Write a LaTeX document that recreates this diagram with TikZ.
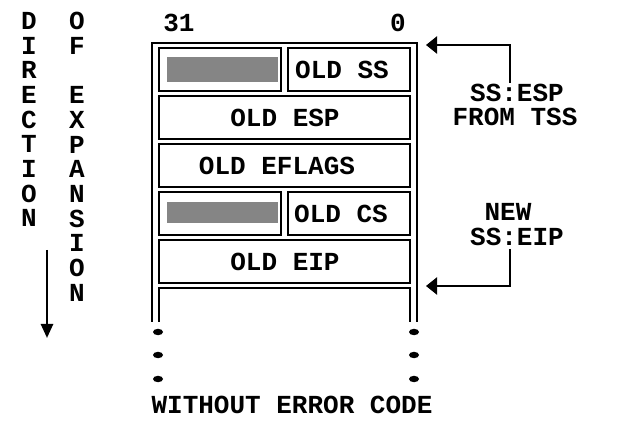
\documentclass[tikz,border=0pt]{standalone}
\usepackage{fontspec}
\setmonofont{Liberation Mono}
\usetikzlibrary{arrows.meta}
\begin{document}
\begin{tikzpicture}[x=1pt,y=-1pt,
  lbl/.style={font=\ttfamily\bfseries\fontsize{26}{26}\selectfont, inner sep=0pt},
  frm/.style={line width=2.5pt},
  boxline/.style={line width=2.5pt},
  shadebox/.style={fill=black!48, draw=none},
  arr/.style={line width=2.2pt, -{Triangle[length=11pt,width=17pt]}},
  darr/.style={line width=2.5pt, -{Triangle[length=14pt,width=12pt]}},
  stackdot/.style={fill=black}
]
\useasboundingbox (0,0) rectangle (632,443);

% frame
\draw[frm] (152,322) -- (152,43) -- (417,43) -- (417,322);

% rows
\draw[boxline] (159,48) rectangle (281,91);
\draw[boxline] (288,48) rectangle (410,91);
\draw[boxline] (159,96) rectangle (410,139);
\draw[boxline] (159,144) rectangle (410,187);
\draw[boxline] (159,192) rectangle (281,235);
\draw[boxline] (288,192) rectangle (410,235);
\draw[boxline] (159,240) rectangle (410,283);
\draw[boxline] (159,322) -- (159,288) -- (410,288) -- (410,322);

% shaded fields
\fill[shadebox] (167,57) rectangle (278,82);
\fill[shadebox] (167,202) rectangle (278,223);

% labels
\node[lbl] (b31) at (179,23) {31};
\node[lbl] (b0) at (398,23) {0};
\node[lbl] (oldss) at (342,69.5) {OLD SS};
\node[lbl] (oldesp) at (285,117.5) {OLD ESP};
\node[lbl] (oldeflags) at (277,165.5) {OLD EFLAGS};
\node[lbl] (oldcs) at (341,213.5) {OLD CS};
\node[lbl] (oldeip) at (285,261.5) {OLD EIP};
\node[lbl] (ssesp) at (517,93) {SS:ESP};
\node[lbl] (fromtss) at (515,117) {FROM TSS};
\node[lbl] (new) at (508,212) {NEW};
\node[lbl] (sseip) at (517,237) {SS:EIP};
\node[lbl] (woec) at (292,405) {WITHOUT ERROR CODE};

% vertical texts
\foreach \ch [count=\i from 0] in {D,I,R,E,C,T,I,O,N}
  \node[lbl] (dir\i) at (29,21+24.65*\i) {\ch};
\foreach \ch [count=\i from 0] in {O,F,{},E,X,P,A,N,S,I,O,N}
  \node[lbl] (exp\i) at (77,21+24.7*\i) {\ch};

% arrows
\coordinate (topstart) at (510,83);
\coordinate (toptip) at (426,45);
\coordinate (botstart) at (510,249);
\coordinate (bottip) at (426,286);
\draw[arr] (topstart) |- (toptip);
\draw[arr] (botstart) |- (bottip);

\coordinate (dirstart) at (47,250);
\coordinate (dirend) at (47,338);
\draw[darr] (dirstart) -- (dirend);

% continuation dots
\foreach \y in {332,355,379} {
  \fill[stackdot] (158,\y) ellipse [x radius=5, y radius=3.2];
  \fill[stackdot] (414,\y) ellipse [x radius=5, y radius=3.2];
}
\end{tikzpicture}
\end{document}
